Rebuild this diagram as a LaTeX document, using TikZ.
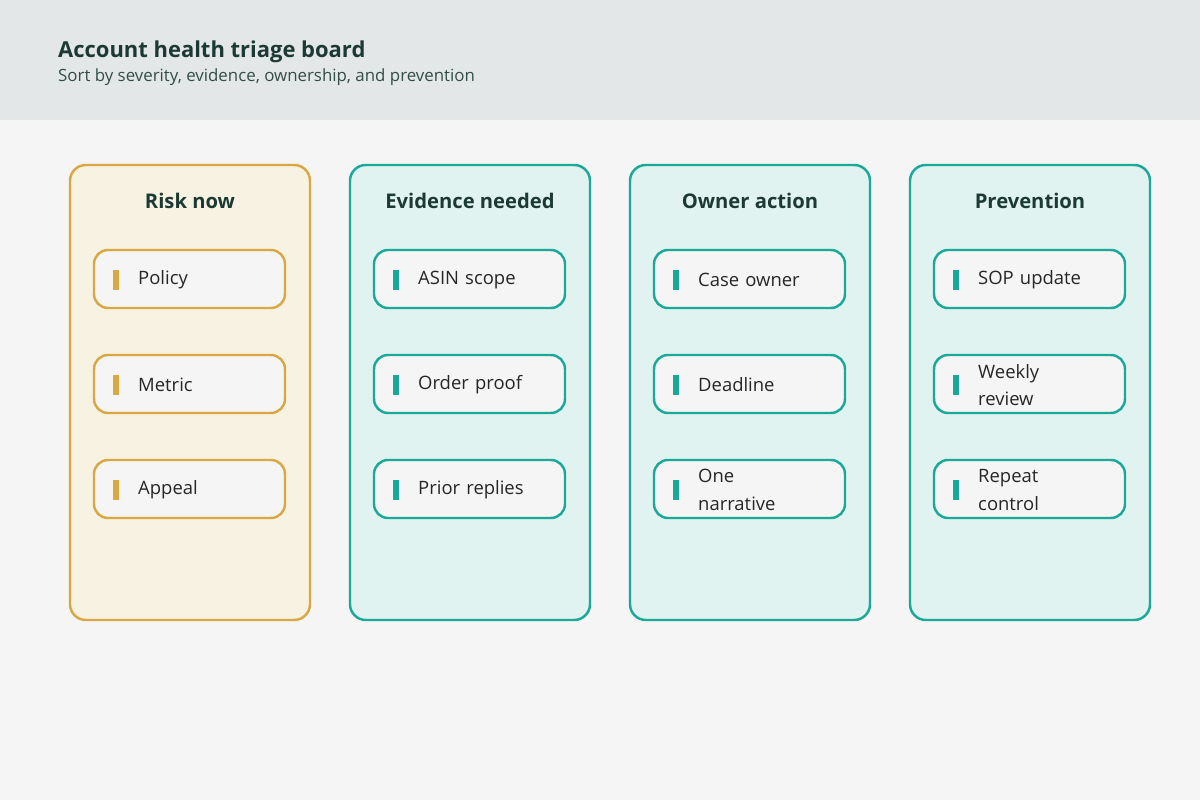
\documentclass[tikz,border=0pt]{standalone}
\usepackage{fontspec}
\setmainfont{Open Sans}
\definecolor{bgc}{HTML}{F4F5F4}
\definecolor{bandc}{HTML}{E4E7E8}
\definecolor{inkc}{HTML}{1C3A33}
\definecolor{goldc}{HTML}{D9A843}
\definecolor{goldf}{HTML}{F8F2E2}
\definecolor{tealc}{HTML}{1AA898}
\definecolor{tealf}{HTML}{E0F3F0}
\tikzset{
  lane/.style={draw=#1, line width=1.4pt, rounded corners=9pt},
  lanehead/.style={font=\fontsize{11.5}{13}\selectfont\bfseries, text=inkc},
  card/.style={draw=#1, fill=bgc, line width=1.4pt, rounded corners=8pt},
  cardtext/.style={anchor=west, align=left, text width=2.6cm,
    font=\fontsize{10.5}{15.5}\selectfont, text=black!85},
}
\begin{document}
\begin{tikzpicture}[x=0.02cm, y=-0.02cm]
  \useasboundingbox (0,0) rectangle (1200,800);
  \fill[bgc] (0,0) rectangle (1200,800);
  \fill[bandc] (0,0) rectangle (1200,120);
  \node[anchor=west, text=inkc, font=\fontsize{12.5}{15}\selectfont\bfseries] (title) at (52,52) {Account health triage board};
  \node[anchor=west, text=inkc!90, font=\fontsize{9.6}{12}\selectfont] (subtitle) at (52,77) {Sort by severity, evidence, ownership, and prevention};
  % lanes
  \foreach \x/\c/\f/\h/\n in {70/goldc/goldf/Risk now/risk, 350/tealc/tealf/Evidence needed/evid, 630/tealc/tealf/Owner action/owner, 910/tealc/tealf/Prevention/prev}{
    \filldraw[lane=\c, fill=\f] (\x,165) rectangle ++(240,455);
    \node[lanehead] (\n) at (\x+120,201) {\h};
  }
  % cards
  \foreach \x/\c/\a/\b/\d in {70/goldc/Policy/Metric/Appeal,
      350/tealc/ASIN scope/Order proof/Prior replies,
      630/tealc/Case owner/Deadline/One\\narrative,
      910/tealc/SOP update/Weekly\\review/Repeat\\control}{
    \foreach \y/\t in {250/\a,355/\b,460/\d}{
      \draw[card=\c] (\x+24,\y) rectangle ++(191,58);
      \fill[\c] (\x+43,\y+20) rectangle ++(6,20);
      \node[cardtext] at (\x+62,\y+30) {\t};
    }
  }
\end{tikzpicture}
\end{document}
